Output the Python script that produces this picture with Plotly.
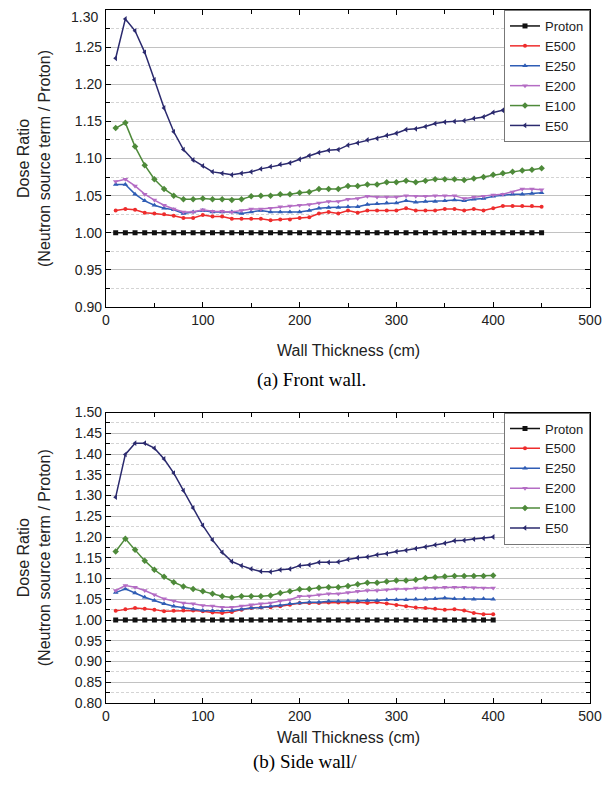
import plotly.graph_objects as go

# wall thickness (cm)
thick_front = [10, 20, 30, 40, 50, 60, 70, 80, 90, 100, 110, 120, 130, 140, 150,
               160, 170, 180, 190, 200, 210, 220, 230, 240, 250, 260, 270, 280, 290, 300,
               310, 320, 330, 340, 350, 360, 370, 380, 390, 400, 410, 420, 430, 440, 450]
thick_side = [10, 20, 30, 40, 50, 60, 70, 80, 90, 100, 110, 120, 130, 140, 150,
              160, 170, 180, 190, 200, 210, 220, 230, 240, 250, 260, 270, 280, 290, 300,
              310, 320, 330, 340, 350, 360, 370, 380, 390, 400]

# (a) front wall
front_proton = [1.00, 1.00, 1.00, 1.00, 1.00, 1.00, 1.00, 1.00, 1.00, 1.00, 1.00, 1.00, 1.00, 1.00, 1.00,
                1.00, 1.00, 1.00, 1.00, 1.00, 1.00, 1.00, 1.00, 1.00, 1.00, 1.00, 1.00, 1.00, 1.00, 1.00,
                1.00, 1.00, 1.00, 1.00, 1.00, 1.00, 1.00, 1.00, 1.00, 1.00, 1.00, 1.00, 1.00, 1.00, 1.00]
front_e500 = [1.030, 1.032, 1.031, 1.027, 1.026, 1.025, 1.023, 1.020, 1.020, 1.024, 1.022, 1.022, 1.019, 1.019, 1.019,
              1.019, 1.017, 1.018, 1.018, 1.020, 1.021, 1.026, 1.028, 1.026, 1.030, 1.027, 1.030, 1.030, 1.030, 1.030,
              1.033, 1.030, 1.030, 1.030, 1.032, 1.032, 1.030, 1.032, 1.030, 1.033, 1.036, 1.036, 1.036, 1.036, 1.035]
front_e250 = [1.065, 1.065, 1.052, 1.043, 1.037, 1.033, 1.031, 1.026, 1.028, 1.030, 1.028, 1.028, 1.028, 1.026, 1.028,
              1.030, 1.028, 1.028, 1.028, 1.028, 1.030, 1.033, 1.034, 1.034, 1.035, 1.035, 1.038, 1.039, 1.040, 1.040,
              1.043, 1.041, 1.042, 1.042, 1.043, 1.044, 1.043, 1.045, 1.046, 1.049, 1.051, 1.052, 1.052, 1.053, 1.054]
front_e200 = [1.069, 1.072, 1.063, 1.052, 1.044, 1.037, 1.032, 1.028, 1.028, 1.031, 1.029, 1.029, 1.028, 1.030, 1.032,
              1.032, 1.033, 1.035, 1.036, 1.037, 1.038, 1.040, 1.042, 1.042, 1.045, 1.046, 1.049, 1.048, 1.048, 1.048,
              1.050, 1.049, 1.049, 1.050, 1.050, 1.050, 1.046, 1.048, 1.049, 1.051, 1.052, 1.055, 1.059, 1.059, 1.058]
front_e100 = [1.141, 1.148, 1.116, 1.091, 1.072, 1.059, 1.050, 1.045, 1.045, 1.046, 1.045, 1.045, 1.044, 1.045, 1.049,
              1.050, 1.050, 1.052, 1.052, 1.054, 1.055, 1.059, 1.059, 1.059, 1.063, 1.063, 1.065, 1.065, 1.068, 1.068,
              1.070, 1.068, 1.070, 1.072, 1.072, 1.072, 1.071, 1.073, 1.075, 1.078, 1.080, 1.082, 1.084, 1.085, 1.087]
front_e50 = [1.235, 1.288, 1.272, 1.243, 1.206, 1.168, 1.136, 1.112, 1.098, 1.090, 1.082, 1.080, 1.078, 1.080, 1.082,
             1.086, 1.089, 1.092, 1.094, 1.099, 1.104, 1.108, 1.111, 1.112, 1.118, 1.121, 1.125, 1.127, 1.131, 1.134,
             1.139, 1.140, 1.143, 1.147, 1.149, 1.150, 1.151, 1.154, 1.156, 1.162, 1.165, 1.168, 1.171, 1.174, 1.177]

# (b) side wall
side_proton = [1.00, 1.00, 1.00, 1.00, 1.00, 1.00, 1.00, 1.00, 1.00, 1.00, 1.00, 1.00, 1.00, 1.00, 1.00,
               1.00, 1.00, 1.00, 1.00, 1.00, 1.00, 1.00, 1.00, 1.00, 1.00, 1.00, 1.00, 1.00, 1.00, 1.00,
               1.00, 1.00, 1.00, 1.00, 1.00, 1.00, 1.00, 1.00, 1.00, 1.00]
side_e500 = [1.022, 1.026, 1.029, 1.027, 1.025, 1.021, 1.022, 1.023, 1.023, 1.021, 1.018, 1.017, 1.019, 1.025, 1.029,
             1.030, 1.031, 1.033, 1.037, 1.041, 1.041, 1.041, 1.042, 1.042, 1.042, 1.043, 1.041, 1.043, 1.040, 1.036,
             1.033, 1.030, 1.029, 1.027, 1.025, 1.026, 1.023, 1.017, 1.014, 1.014]
side_e250 = [1.066, 1.075, 1.065, 1.055, 1.047, 1.039, 1.033, 1.030, 1.026, 1.023, 1.022, 1.022, 1.023, 1.026, 1.029,
             1.030, 1.033, 1.035, 1.039, 1.041, 1.043, 1.043, 1.045, 1.045, 1.046, 1.046, 1.047, 1.047, 1.049, 1.049,
             1.049, 1.050, 1.050, 1.051, 1.053, 1.051, 1.051, 1.050, 1.051, 1.050]
side_e200 = [1.071, 1.083, 1.079, 1.071, 1.061, 1.051, 1.046, 1.041, 1.039, 1.035, 1.034, 1.031, 1.031, 1.034, 1.037,
             1.039, 1.041, 1.046, 1.049, 1.057, 1.058, 1.061, 1.063, 1.063, 1.066, 1.069, 1.071, 1.071, 1.073, 1.075,
             1.075, 1.077, 1.078, 1.078, 1.079, 1.079, 1.079, 1.078, 1.077, 1.077]
side_e100 = [1.165, 1.196, 1.169, 1.143, 1.121, 1.104, 1.091, 1.081, 1.075, 1.069, 1.063, 1.057, 1.054, 1.057, 1.057,
             1.057, 1.059, 1.065, 1.069, 1.074, 1.075, 1.078, 1.079, 1.079, 1.082, 1.086, 1.090, 1.090, 1.093, 1.095,
             1.095, 1.097, 1.101, 1.103, 1.105, 1.106, 1.106, 1.106, 1.106, 1.107]
side_e50 = [1.296, 1.399, 1.426, 1.426, 1.414, 1.388, 1.354, 1.312, 1.270, 1.228, 1.193, 1.163, 1.141, 1.131, 1.123,
            1.117, 1.116, 1.121, 1.123, 1.131, 1.133, 1.139, 1.139, 1.140, 1.146, 1.150, 1.152, 1.157, 1.160, 1.165,
            1.168, 1.172, 1.176, 1.181, 1.185, 1.191, 1.192, 1.195, 1.197, 1.200]

names = ['Proton', 'E500', 'E250', 'E200', 'E100', 'E50']
colors = ['#111111', '#EE2C2C', '#2F5DB5', '#B46CC4', '#4E8A3A', '#2B2A6E']
symbols = ['square', 'circle', 'triangle-up', 'triangle-down', 'diamond', 'triangle-left']
sizes = [5, 4, 5, 5, 5, 5]

front = [front_proton, front_e500, front_e250, front_e200, front_e100, front_e50]
side = [side_proton, side_e500, side_e250, side_e200, side_e100, side_e50]

FONT = 'Arial, Liberation Sans, sans-serif'
# the page body keeps its default 8px margin, so the figure is drawn 8px in
OFF = 8
W, H = 613 - OFF, 790 - OFF


def px(v):
    return (v - OFF) / W


def py(v):
    return 1 - (v - OFF) / H


fig = go.Figure()

for i in range(6):
    fig.add_trace(go.Scatter(
        x=thick_front, y=front[i], name=names[i], mode='lines+markers',
        line=dict(color=colors[i], width=1.5),
        marker=dict(symbol=symbols[i], size=sizes[i], color=colors[i]),
        xaxis='x', yaxis='y', legend='legend'))
for i in range(6):
    fig.add_trace(go.Scatter(
        x=thick_side, y=side[i], name=names[i], mode='lines+markers',
        line=dict(color=colors[i], width=1.5),
        marker=dict(symbol=symbols[i], size=sizes[i], color=colors[i]),
        xaxis='x2', yaxis='y2', legend='legend2'))

# plot area boxes in window pixels (left, right, top, bottom)
top_box = (106, 590, 10, 307)
bot_box = (106, 590, 412.5, 703)

tick_font = dict(family=FONT, size=14, color='#222')

axis_common = dict(
    showline=True, linecolor='black', linewidth=1.2, mirror='ticks',
    ticks='inside', ticklen=5, tickcolor='black',
    tickfont=tick_font, zeroline=False, automargin=False,
)

xaxis_style = dict(axis_common, range=[0, 500], dtick=100, showgrid=False,
                   minor=dict(dtick=50, ticks='inside', ticklen=4, tickcolor='black', showgrid=False))

ytitle = dict(text='Dose Ratio<br>(Neutron source term / Proton)',
              font=dict(family=FONT, size=16, color='#222'), standoff=20)


def ystyle(lo, hi, b):
    return dict(axis_common, domain=[py(b[3]), py(b[2])], range=[lo, hi], dtick=0.05,
                tickformat='.2f', showgrid=True, gridcolor='#C2C2C2', gridwidth=1,
                title=ytitle,
                minor=dict(dtick=0.025, ticks='inside', ticklen=4, tickcolor='black',
                           showgrid=True, gridcolor='#D4D4D4', griddash='3px,2px', gridwidth=1))


legend_style = dict(xanchor='right', yanchor='top', bgcolor='white', bordercolor='#777',
                    borderwidth=1, font=dict(family=FONT, size=13, color='#222'),
                    tracegroupgap=0)

fig.update_layout(
    width=W, height=H,
    margin=dict(l=0, r=0, t=0, b=0),
    paper_bgcolor='white', plot_bgcolor='white',
    font=dict(family=FONT, color='#222'),
    xaxis=dict(xaxis_style, domain=[px(top_box[0]), px(top_box[1])], anchor='y'),
    yaxis=dict(ystyle(0.90, 1.30, top_box), anchor='x'),
    xaxis2=dict(xaxis_style, domain=[px(bot_box[0]), px(bot_box[1])], anchor='y2'),
    yaxis2=dict(ystyle(0.80, 1.50, bot_box), anchor='x2'),
    legend=dict(legend_style, x=px(top_box[1]), y=py(top_box[2])),
    legend2=dict(legend_style, x=px(bot_box[1]), y=py(bot_box[2])),
)

# the top "1.30" label would sit past the top of the div, so place it by hand
fig.add_annotation(x=px(99), y=1, xref='paper', yref='paper', text='1.30', borderpad=0,
                   xanchor='right', yanchor='top', showarrow=False, font=tick_font)

label_font = dict(family=FONT, size=16, color='#222')
fig.add_annotation(x=px(348), y=py(350), xref='paper', yref='paper', text='Wall Thickness (cm)',
                   showarrow=False, font=label_font)
fig.add_annotation(x=px(348), y=py(748), xref='paper', yref='paper', text='Wall Thickness (cm)',
                   showarrow=False, font=label_font)

cap_font = dict(family='Times New Roman, Liberation Serif, serif', size=19, color='black')
fig.add_annotation(x=px(311), y=py(380), xref='paper', yref='paper', text='(a) Front wall.',
                   showarrow=False, font=cap_font)
fig.add_annotation(x=px(305), y=py(775), xref='paper', yref='paper', text='(b) Side wall/',
                   showarrow=False, font=cap_font)

fig.write_html('out.html')
